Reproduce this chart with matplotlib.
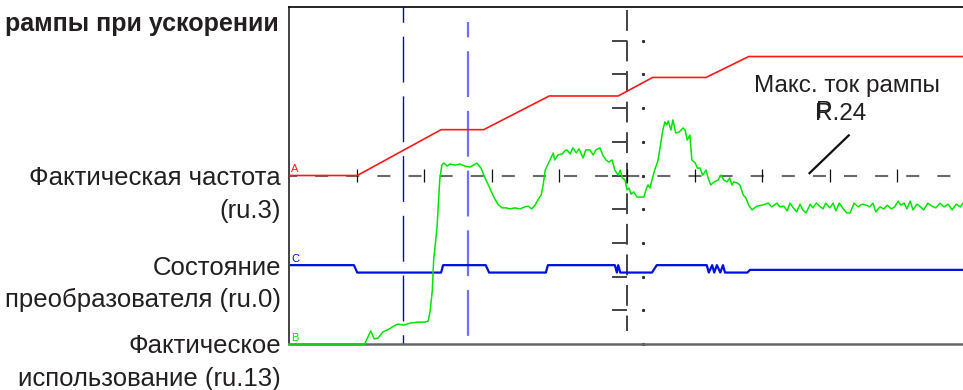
import matplotlib.pyplot as plt

plt.rcParams['font.family'] = ['Liberation Sans', 'DejaVu Sans']
plt.rcParams['lines.scale_dashes'] = False

# scope screen: 10 x 10 divisions
# A - actual frequency (ru.3), red
freq_t = [0.0, 1.01, 2.25, 2.88, 3.85, 4.87, 5.38, 6.17, 6.80, 10.0]
freq_v = [5.0, 5.0, 6.36, 6.36, 7.36, 7.36, 7.91, 7.91, 8.53, 8.53]

# C - drive state (ru.0), blue
state_t = [0.03, 0.96, 1.01, 2.25, 2.28, 2.91, 2.96, 3.80, 3.83, 4.82, 4.85,
           4.87, 4.90, 5.37, 5.44, 6.18, 6.21, 6.26, 6.29, 6.33, 6.38, 6.42,
           6.45, 6.78, 6.82, 10.0]
state_v = [2.34, 2.34, 2.12, 2.12, 2.34, 2.34, 2.12, 2.12, 2.34, 2.34, 2.12,
           2.34, 2.12, 2.12, 2.34, 2.34, 2.12, 2.34, 2.12, 2.34, 2.12, 2.34,
           2.12, 2.12, 2.20, 2.20]

# B - actual load (ru.13), green
load_t = [0.0, 1.12, 1.21, 1.26, 1.32, 1.39, 1.46, 1.55, 1.61, 1.70, 1.79,
          1.91, 2.01, 2.06, 2.09, 2.12, 2.14, 2.19, 2.23, 2.26, 2.29, 2.34,
          2.38, 2.46, 2.53, 2.60, 2.68, 2.78, 2.84, 2.90, 2.97, 3.03, 3.09,
          3.15, 3.21, 3.27, 3.34, 3.42, 3.49, 3.54, 3.59, 3.64, 3.68, 3.73,
          3.76, 3.79, 3.86, 3.91, 3.93, 3.98, 4.04, 4.08, 4.11, 4.16, 4.20,
          4.25, 4.29, 4.35, 4.39, 4.45, 4.50, 4.54, 4.60, 4.64, 4.69, 4.73,
          4.78, 4.82, 4.87, 4.90, 4.93, 4.97, 5.00, 5.03, 5.06, 5.10, 5.15,
          5.21, 5.25, 5.28, 5.31, 5.34, 5.37, 5.41, 5.46, 5.49, 5.53, 5.56,
          5.59, 5.61, 5.65, 5.68, 5.72, 5.77, 5.83, 5.86, 5.89, 5.93, 5.96,
          6.01, 6.04, 6.08, 6.12, 6.17, 6.20, 6.24, 6.29, 6.35, 6.39, 6.43,
          6.48, 6.52, 6.55, 6.58, 6.63, 6.67, 6.72, 6.76, 6.80, 6.85, 6.92,
          7.00, 7.09, 7.14, 7.22, 7.26, 7.32, 7.37, 7.41, 7.46, 7.51, 7.56,
          7.60, 7.65, 7.71, 7.75, 7.80, 7.85, 7.90, 7.94, 8.00, 8.05, 8.09,
          8.14, 8.20, 8.25, 8.30, 8.36, 8.42, 8.48, 8.54, 8.59, 8.64, 8.68,
          8.74, 8.80, 8.85, 8.91, 8.96, 9.01, 9.05, 9.10, 9.14, 9.19, 9.23,
          9.29, 9.33, 9.39, 9.45, 9.51, 9.57, 9.63, 9.69, 9.75, 9.81, 9.87,
          9.93, 9.97, 10.0]
load_v = [0.0, 0.0, 0.39, 0.15, 0.18, 0.36, 0.42, 0.53, 0.59, 0.56, 0.62,
          0.65, 0.65, 0.68, 1.01, 1.60, 2.49, 3.47, 4.87, 5.31, 5.37, 5.28,
          5.34, 5.31, 5.34, 5.28, 5.25, 5.37, 5.22, 4.93, 4.63, 4.36, 4.15,
          4.04, 4.04, 4.01, 4.04, 4.01, 4.07, 4.09, 4.01, 4.12, 4.27, 4.42,
          4.72, 5.16, 5.46, 5.67, 5.46, 5.61, 5.64, 5.73, 5.76, 5.64, 5.82,
          5.67, 5.79, 5.52, 5.76, 5.76, 5.61, 5.76, 5.82, 5.61, 5.46, 5.40,
          5.46, 5.16, 5.01, 5.16, 4.93, 4.87, 4.57, 4.63, 4.45, 4.51, 4.36,
          4.36, 4.36, 4.57, 4.72, 4.63, 4.87, 5.16, 5.46, 5.85, 6.35, 6.59,
          6.50, 6.62, 6.35, 6.65, 6.26, 6.29, 6.41, 6.35, 6.05, 6.20, 5.46,
          5.37, 5.22, 5.22, 5.01, 5.16, 4.93, 4.72, 4.81, 4.87, 5.01, 4.87,
          4.81, 4.93, 4.72, 4.81, 4.78, 4.72, 4.42, 4.33, 4.12, 3.98, 4.09,
          4.12, 4.18, 4.07, 4.18, 4.07, 4.09, 3.95, 4.18, 4.04, 3.92, 4.15,
          3.98, 3.89, 4.15, 4.04, 4.18, 4.09, 4.01, 4.18, 4.04, 4.18, 3.95,
          4.18, 4.01, 3.89, 3.89, 4.18, 4.07, 4.15, 4.12, 4.07, 4.18, 3.92,
          4.07, 4.01, 4.12, 4.01, 4.07, 4.24, 4.12, 4.18, 4.01, 4.24, 3.98,
          4.15, 4.09, 3.98, 4.18, 4.09, 4.04, 4.18, 4.07, 4.15, 3.98, 4.15,
          4.07, 4.18, 4.10]

channel_names = ['Фактическая частота', 'Состояние', 'Фактическое']
channel_params = ['(ru.3)', 'преобразователя (ru.0)', 'использование (ru.13)']
channel_levels = [5.0, 2.34, 0.0]
channel_tags = ['A', 'C', 'B']
channel_colors = ['#ff1a1a', '#0010dd', '#00e600']

cursor1_t = 1.69
cursor2_t = 2.65

fig = plt.figure(figsize=(9.63, 3.9), dpi=100)
ax = fig.add_axes([289 / 963, 46 / 390, 676 / 963, 337 / 390])
ax.set_xlim(0, 10)
ax.set_ylim(0, 10)
ax.set_xticks([])
ax.set_yticks([])
ax.spines['right'].set_visible(False)
ax.spines['top'].set_linewidth(1.2)
ax.spines['left'].set_linewidth(1.2)
ax.spines['left'].set_color('#222222')
ax.spines['bottom'].set_color('#666666')
ax.spines['bottom'].set_linewidth(1.8)

# graticule: centre cross with division ticks
ax.axhline(5, color='#6a6a6a', lw=1.5, ls=(3.6, (9.4, 13)), zorder=1)
ax.vlines(range(1, 10), 4.8, 5.2, color='#111111', lw=0.9, zorder=1)
ax.plot([5, 5], [9.9, 0.4], color='#111111', lw=1.1,
        ls=(0, (15, 7)), zorder=1)
ax.hlines(range(1, 10), 4.78, 5.0, color='#444444', lw=1.4, zorder=1)
ax.plot([5.24] * 10, range(0, 10), ls='none', marker='s', ms=1.2,
        color='#333333', zorder=1, clip_on=False)

# cursors (drawn from the top down)
ax.plot([cursor1_t, cursor1_t], [10, 0], color='#0000cc', lw=1.0,
        ls=(22, (33, 10)), zorder=2)
ax.plot([cursor2_t, cursor2_t], [9.55, 0], color='#6f6fff', lw=1.6,
        ls=(22, (33, 10)), zorder=2)

ax.plot(freq_t, freq_v, color=channel_colors[0], lw=1.2, zorder=3)
ax.plot(state_t, state_v, color=channel_colors[1], lw=1.6, zorder=3)
ax.plot(load_t, load_v, color=channel_colors[2], lw=1.1, zorder=3,
        clip_on=False)

for tag, lvl, col in zip(channel_tags, channel_levels, channel_colors):
    ax.text(0.03, lvl + 0.04, tag, color=col, fontsize=8,
            ha='left', va='bottom')

for name, par, lvl in zip(channel_names, channel_params, channel_levels):
    ax.text(-0.12, lvl - 0.28, name, fontsize=18.5, color='#231f20',
            ha='right', va='baseline', clip_on=False)
    ax.text(-0.12, lvl - 1.25, par, fontsize=18.5, color='#231f20',
            ha='right', va='baseline', clip_on=False)

fig.text(279 / 963, 1 - 31 / 390, 'рампы при ускорении', fontsize=18,
         fontweight='bold', color='#231f20', ha='right', va='baseline')

ax.text(8.25, 7.48, 'Макс. ток рампы', fontsize=17.5, color='#231f20',
        ha='center', va='baseline')
# the reference shows "P" printed over the "R" of R.24
ax.text(7.78, 6.65, 'R.24', fontsize=17.5, color='#231f20',
        ha='left', va='baseline')
ax.text(7.80, 6.70, 'P', fontsize=17.5, color='#231f20',
        ha='left', va='baseline')
ax.plot([7.70, 8.28], [5.07, 6.19], color='#111111', lw=1.6)

fig.savefig('out.png', dpi=100)
